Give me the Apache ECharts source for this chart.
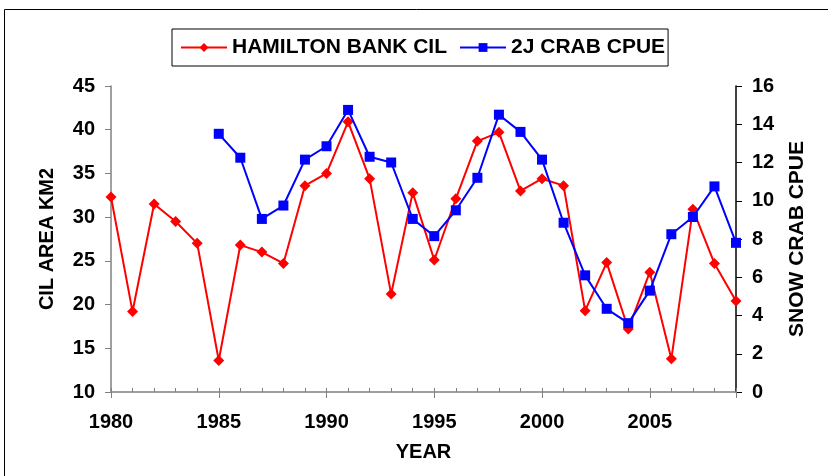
<!DOCTYPE html>
<html>
<head>
<meta charset="utf-8">
<script src="https://cdn.jsdelivr.net/npm/echarts@6/dist/echarts.min.js"></script>
<style>
  html, body { margin: 0; padding: 0; background: #fff; }
  #chart { width: 828px; height: 476px; }
</style>
</head>
<body>
<div id="chart"></div>
<script>
  // values
  let cilYears = [1980, 1981, 1982, 1983, 1984, 1985, 1986, 1987, 1988, 1989,
                  1990, 1991, 1992, 1993, 1994, 1995, 1996, 1997, 1998, 1999,
                  2000, 2001, 2002, 2003, 2004, 2005, 2006, 2007, 2008, 2009];
  let cilArea = [32.3, 19.2, 31.5, 29.5, 27.0, 13.6, 26.8, 26.0, 24.7, 33.6,
                 35.0, 40.9, 34.4, 21.2, 32.8, 25.1, 32.1, 38.7, 39.7, 33.0,
                 34.4, 33.6, 19.3, 24.8, 17.2, 23.7, 13.8, 30.9, 24.7, 20.4];

  let crabYears = [1985, 1986, 1987, 1988, 1989, 1990, 1991, 1992, 1993, 1994,
                   1995, 1996, 1997, 1998, 1999, 2000, 2001, 2002, 2003, 2004,
                   2005, 2006, 2007, 2008, 2009];
  let crabCpue = [13.5, 12.25, 9.05, 9.75, 12.15, 12.85, 14.75, 12.3, 12.0, 9.05,
                  8.15, 9.5, 11.2, 14.5, 13.6, 12.15, 8.85, 6.1, 4.35, 3.6,
                  5.3, 8.25, 9.15, 10.75, 7.8];

  let seriesNames = ['HAMILTON BANK CIL', '2J CRAB CPUE'];

  let chart = echarts.init(document.getElementById('chart'));

  let labelFont = {
    fontFamily: '"Liberation Sans", Arial, sans-serif',
    fontWeight: 'bold',
    color: '#000'
  };

  let option = {
    animation: false,
    backgroundColor: '#fff',
    graphic: [
      {
        type: 'rect',
        shape: { x: 4.5, y: 9.5, width: 840, height: 480 },
        style: { fill: 'none', stroke: '#000', lineWidth: 1 },
        silent: true
      }
    ],
    legend: {
      data: seriesNames,
      left: 172,
      top: 29,
      padding: [8, 3, 8, 8],
      itemGap: 12,
      itemWidth: 46,
      itemHeight: 11,
      borderColor: '#000',
      borderWidth: 1,
      textStyle: Object.assign({ fontSize: 21 }, labelFont)
    },
    grid: {
      left: 111,
      right: 92,
      top: 86,
      bottom: 84,
      containLabel: false
    },
    xAxis: [
      {
        type: 'value',
        min: 1980,
        max: 2009,
        interval: 5,
        name: 'YEAR',
        nameLocation: 'middle',
        nameGap: 50,
        nameTextStyle: Object.assign({ fontSize: 20 }, labelFont),
        axisLine: { lineStyle: { color: '#808080', width: 1.5 } },
        axisTick: { length: 6, lineStyle: { color: '#808080' } },
        splitLine: { show: false },
        axisLabel: Object.assign({
          fontSize: 20,
          margin: 20,
          formatter: function (v) { return v <= 2005 ? String(v) : ''; }
        }, labelFont)
      },
      {
        // yearly minor ticks pointing into the plot
        type: 'value',
        position: 'bottom',
        min: 1980,
        max: 2009,
        interval: 1,
        axisLine: { show: false },
        axisTick: { show: true, inside: true, length: 4, lineStyle: { color: '#808080' } },
        axisLabel: { show: false },
        splitLine: { show: false }
      }
    ],
    yAxis: [
      {
        type: 'value',
        min: 10,
        max: 45,
        interval: 5,
        name: 'CIL AREA KM2',
        nameLocation: 'middle',
        nameGap: 54,
        nameRotate: 90,
        nameTextStyle: Object.assign({ fontSize: 20 }, labelFont),
        axisLine: { show: true, lineStyle: { color: '#808080', width: 1.5 } },
        axisTick: { show: true, length: 6, lineStyle: { color: '#808080' } },
        splitLine: { show: false },
        axisLabel: Object.assign({ fontSize: 20, margin: 16 }, labelFont)
      },
      {
        type: 'value',
        min: 0,
        max: 16,
        interval: 2,
        name: 'SNOW CRAB CPUE',
        nameLocation: 'middle',
        nameGap: 51,
        nameRotate: 90,
        nameTextStyle: Object.assign({ fontSize: 21 }, labelFont),
        axisLine: { show: true, lineStyle: { color: '#000', width: 1.5 } },
        axisTick: { show: true, length: 6, lineStyle: { color: '#000' } },
        splitLine: { show: false },
        axisLabel: Object.assign({ fontSize: 20, margin: 16 }, labelFont)
      }
    ],
    series: [
      {
        name: seriesNames[0],
        type: 'line',
        xAxisIndex: 0,
        yAxisIndex: 0,
        data: cilYears.map((y, i) => [y, cilArea[i]]),
        symbol: 'diamond',
        symbolSize: 11,
        showAllSymbol: true,
        lineStyle: { color: '#ff0000', width: 2 },
        itemStyle: { color: '#ff0000' },
        z: 2
      },
      {
        name: seriesNames[1],
        type: 'line',
        xAxisIndex: 0,
        yAxisIndex: 1,
        data: crabYears.map((y, i) => [y, crabCpue[i]]),
        symbol: 'rect',
        symbolSize: 10,
        showAllSymbol: true,
        lineStyle: { color: '#0000ff', width: 2 },
        itemStyle: { color: '#0000ff' },
        z: 3
      }
    ]
  };

  chart.setOption(option);
</script>
</body>
</html>
